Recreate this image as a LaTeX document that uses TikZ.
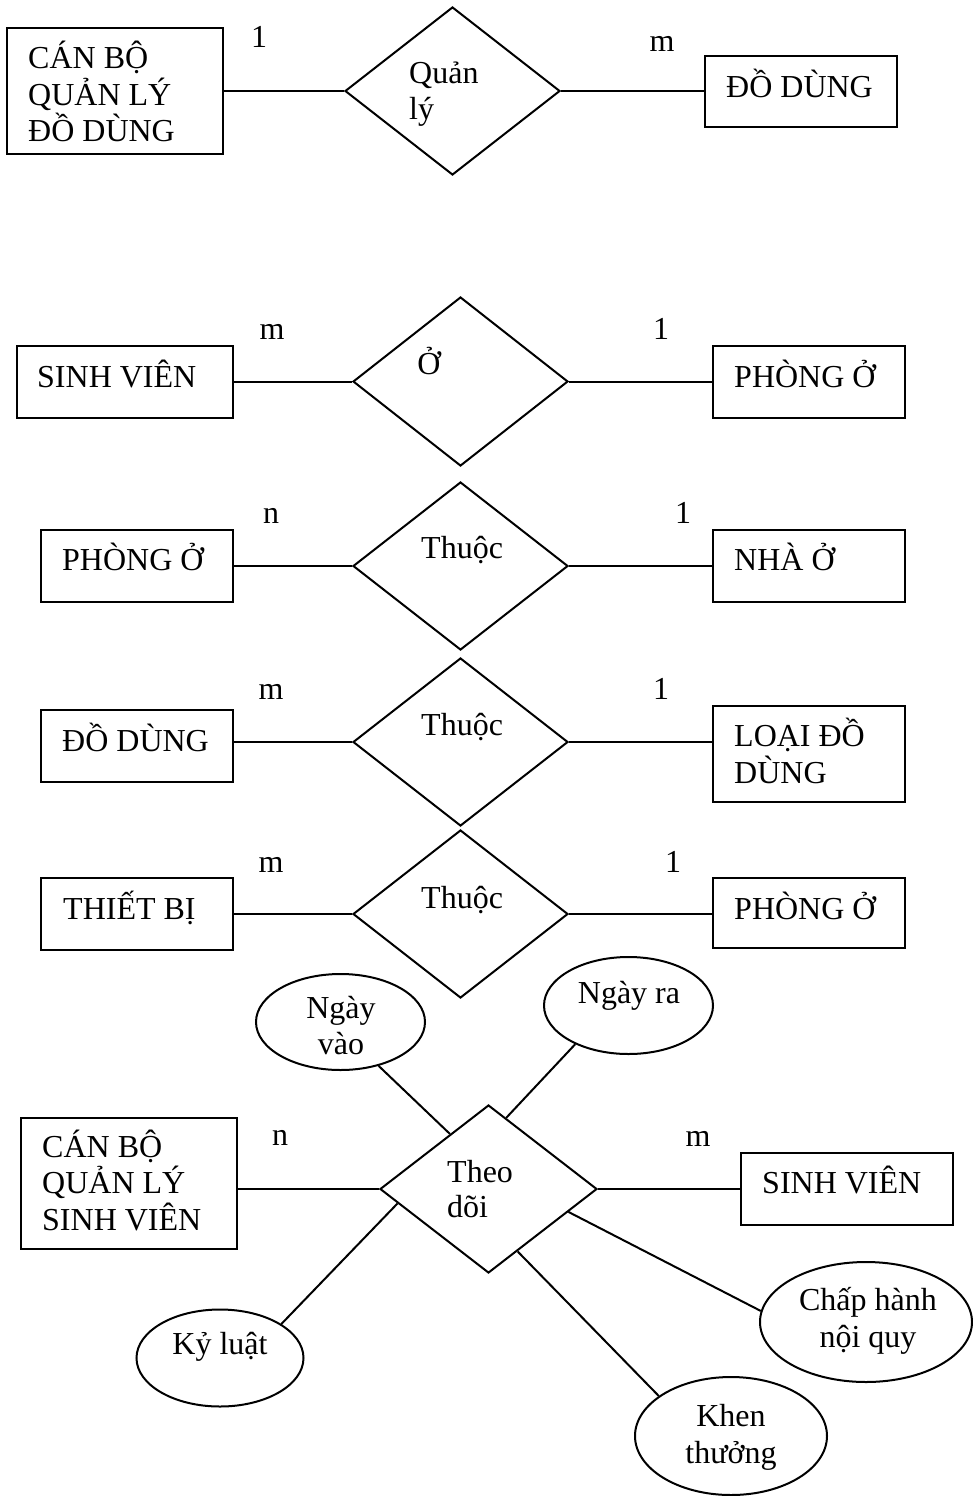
\documentclass[tikz,border=0pt]{standalone}
\usepackage{fontspec}
\setmainfont{Liberation Serif}
\usetikzlibrary{shapes.geometric}
\begin{document}
\begin{tikzpicture}[x=1pt,y=-1pt,
  every node/.style={font=\fontsize{32}{37}\selectfont},
  ent/.style={draw,line width=2pt,rectangle,inner sep=0pt},
  rel/.style={draw,line width=2pt,diamond,inner sep=0pt,minimum width=215pt,minimum height=168pt},
  attr/.style={draw,line width=2pt,ellipse,inner sep=0pt},
  txt/.style={inner sep=0pt,anchor=base west},
  card/.style={inner sep=0pt,anchor=base},
  link/.style={line width=2pt}]
\useasboundingbox (0,0) rectangle (972,1496);

% --- Cán bộ quản lý đồ dùng -- Quản lý -- Đồ dùng
\node[ent,minimum width=216pt,minimum height=126pt] (cbdd) at (115,91) {};
\node[rel] (ql) at (452.5,91) {};
\node[ent,minimum width=192pt,minimum height=71pt] (dd1) at (801,91.5) {};
\node[txt] (cbdd1) at (28,68) {CÁN BỘ};
\node[txt] (cbdd2) at (28,105) {QUẢN LÝ};
\node[txt] (cbdd3) at (28,141) {ĐỒ DÙNG};
\node[txt] (ql1) at (409,83) {Quản};
\node[txt] (ql2) at (409,119) {lý};
\node[txt] (dd1t) at (726,97) {ĐỒ DÙNG};
\node[card] (c1a) at (259,48) {1};
\node[card] (c1b) at (662,52) {m};
\draw[link] (ql.west -| cbdd.east) -- (ql.west);
\draw[link] (ql.east) -- (ql.east -| dd1.west);

% --- Sinh viên -- Ở -- Phòng ở
\node[ent,minimum width=216pt,minimum height=72pt] (sv1) at (125,382) {};
\node[rel,minimum height=169pt] (o) at (460.5,381.5) {};
\node[ent,minimum width=192pt,minimum height=72pt] (po1) at (809,382) {};
\node[txt] (sv1t) at (37,387) {SINH VIÊN};
\node[card] (ot) at (429,374) {Ở};
\node[txt] (po1t) at (734,387) {PHÒNG Ở};
\node[card] (c2a) at (272,339) {m};
\node[card] (c2b) at (661,339) {1};
\draw[link] (o.west -| sv1.east) -- (o.west);
\draw[link] (o.east) -- (o.east -| po1.west);

% --- Phòng ở -- Thuộc -- Nhà ở
\node[ent,minimum width=192pt,minimum height=72pt] (po2) at (137,566) {};
\node[rel] (th1) at (460.5,566) {};
\node[ent,minimum width=192pt,minimum height=72pt] (no) at (809,566) {};
\node[txt] (po2t) at (62,570) {PHÒNG Ở};
\node[txt] (th1t) at (421,558) {Thuộc};
\node[txt] (not) at (734,570) {NHÀ Ở};
\node[card] (c3a) at (271,523) {n};
\node[card] (c3b) at (683,523) {1};
\draw[link] (th1.west -| po2.east) -- (th1.west);
\draw[link] (th1.east) -- (th1.east -| no.west);

% --- Đồ dùng -- Thuộc -- Loại đồ dùng
\node[ent,minimum width=192pt,minimum height=72pt] (dd2) at (137,746) {};
\node[rel] (th2) at (460.5,742) {};
\node[ent,minimum width=192pt,minimum height=96pt] (ldd) at (809,754) {};
\node[txt] (dd2t) at (62,751) {ĐỒ DÙNG};
\node[txt] (th2t) at (421,735) {Thuộc};
\node[txt] (ldd1) at (734,746) {LOẠI ĐỒ};
\node[txt] (ldd2) at (734,783) {DÙNG};
\node[card] (c4a) at (271,699) {m};
\node[card] (c4b) at (661,699) {1};
\draw[link] (th2.west -| dd2.east) -- (th2.west);
\draw[link] (th2.east) -- (th2.east -| ldd.west);

% --- Thiết bị -- Thuộc -- Phòng ở
\node[ent,minimum width=192pt,minimum height=72pt] (tb) at (137,914) {};
\node[rel] (th3) at (460.5,914) {};
\node[ent,minimum width=192pt,minimum height=70pt] (po3) at (809,913) {};
\node[txt] (tbt) at (63,919) {THIẾT BỊ};
\node[txt] (th3t) at (421,908) {Thuộc};
\node[txt] (po3t) at (734,919) {PHÒNG Ở};
\node[card] (c5a) at (271,872) {m};
\node[card] (c5b) at (673,872) {1};
\draw[link] (th3.west -| tb.east) -- (th3.west);
\draw[link] (th3.east) -- (th3.east -| po3.west);

% --- Cán bộ quản lý sinh viên -- Theo dõi -- Sinh viên, with attributes
\node[ent,minimum width=216pt,minimum height=131pt] (cbsv) at (129,1183.5) {};
\node[rel,minimum width=217pt] (td) at (488.5,1189) {};
\node[ent,minimum width=212pt,minimum height=72pt] (sv2) at (847,1189) {};
\node[txt] (cbsv1) at (42,1157) {CÁN BỘ};
\node[txt] (cbsv2) at (42,1193) {QUẢN LÝ};
\node[txt] (cbsv3) at (42,1230) {SINH VIÊN};
\node[txt] (td1) at (447,1182) {Theo};
\node[txt] (td2) at (447,1217) {dõi};
\node[txt] (sv2t) at (762,1193) {SINH VIÊN};
\node[card] (c6a) at (280,1145) {n};
\node[card] (c6b) at (698,1146) {m};
\draw[link] (td.west -| cbsv.east) -- (td.west);
\draw[link] (td.east) -- (td.east -| sv2.west);

\node[attr,minimum width=169pt,minimum height=96pt] (nv) at (340.5,1022) {};
\node[attr,minimum width=169pt,minimum height=97pt] (nr) at (628.5,1005.5) {};
\node[attr,minimum width=167pt,minimum height=97pt] (kl) at (220,1358) {};
\node[attr,minimum width=192pt,minimum height=118pt] (kt) at (731,1436) {};
\node[attr,minimum width=212pt,minimum height=120pt] (ch) at (866,1322) {};
\node[card] (nv1) at (341,1018) {Ngày};
\node[card] (nv2) at (341,1054) {vào};
\node[card] (nrt) at (629,1003) {Ngày ra};
\node[card] (klt) at (220,1354) {Kỷ luật};
\node[card] (ch1) at (868,1310) {Chấp hành};
\node[card] (ch2) at (868,1347) {nội quy};
\node[card] (kt1) at (731,1426) {Khen};
\node[card] (kt2) at (731,1463) {thưởng};

\draw[link] (nv.-49) -- (td.125.5);
\draw[link] (nr.216.8) -- (td.76.3);
\draw[link] (td.189) -- (kl.29.8);
\draw[link] (td.-65) -- (kt.151.2);
\draw[link] (td.-16.8) -- (ch.174);
\end{tikzpicture}
\end{document}
